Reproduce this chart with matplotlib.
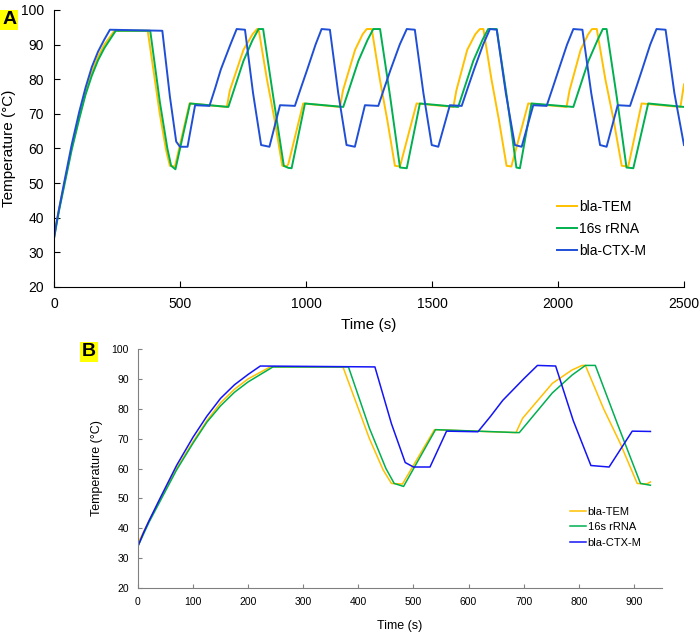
import numpy as np
import matplotlib
matplotlib.use("Agg")
import matplotlib.pyplot as plt

plt.rcParams['font.family'] = ['Liberation Sans', 'DejaVu Sans']

# bla-TEM (orange)
t_tem = [0, 20, 40, 70, 100, 125, 150, 175, 200, 240, 372, 420, 445, 460, 480, 538,
         686, 698, 752, 788, 806, 812, 845, 875, 906, 923, 930, 989,
         1135, 1147, 1195, 1225, 1241, 1261, 1293, 1322, 1353, 1373, 1439,
         1585, 1597, 1640, 1672, 1690, 1704, 1736, 1765, 1796, 1815, 1882,
         2034, 2046, 2090, 2120, 2135, 2154, 2188, 2220, 2253, 2279, 2332,
         2486, 2500]
T_tem = [35, 42.5, 49.5, 60, 69, 76, 82, 86.5, 90, 94, 94, 70, 59.5, 55, 54.8, 73,
         72, 76.8, 88.5, 93, 94.5, 94.5, 80, 68.5, 55, 54.8, 55.5, 73,
         72, 76.8, 88.5, 93, 94.5, 94.5, 80, 68.5, 55, 54.8, 73,
         72, 76.8, 88.5, 93, 94.5, 94.5, 80, 68.5, 55, 54.8, 73,
         72, 76.8, 88.5, 93, 94.5, 94.5, 80, 68.5, 55, 54.8, 73,
         72, 78.5]

# 16s rRNA (green)
t_16s = [0, 20, 40, 70, 100, 125, 150, 175, 200, 245, 382, 420, 450, 465, 482, 540,
         692, 752, 788, 812, 830, 870, 912, 930, 943, 996,
         1148, 1208, 1244, 1267, 1294, 1334, 1373, 1400, 1452,
         1604, 1664, 1700, 1723, 1757, 1797, 1835, 1849, 1895,
         2061, 2121, 2157, 2178, 2193, 2233, 2272, 2299, 2358, 2500]
T_16s = [34, 42, 49, 59.5, 68.5, 75.5, 81, 85.5, 89, 94, 94, 73.5, 60, 55, 54, 73,
         72, 85.3, 91.3, 94.5, 94.5, 75, 55, 54.4, 54.3, 73,
         72, 85.3, 91.3, 94.5, 94.5, 75, 54.5, 54.3, 73,
         72, 85.3, 91.3, 94.5, 94.5, 75, 54.5, 54.3, 73,
         72, 85.3, 91.3, 94.5, 94.5, 75, 54.5, 54.3, 73, 72]

# bla-CTX-M (blue)
t_ctx = [0, 10, 20, 40, 70, 100, 125, 150, 175, 200, 222, 430, 460, 485, 500, 530, 560,
         617, 640, 662, 700, 725, 758, 790, 822, 855, 897, 930,
         956, 980, 1005, 1038, 1062, 1095, 1128, 1161, 1194, 1234,
         1287, 1311, 1336, 1372, 1400, 1432, 1466, 1499, 1525, 1571,
         1618, 1642, 1667, 1703, 1730, 1757, 1793, 1829, 1856, 1902,
         1955, 1979, 2003, 2036, 2061, 2097, 2132, 2167, 2193, 2237,
         2286, 2310, 2334, 2366, 2391, 2427, 2462, 2500]
T_ctx = [34, 38.5, 42.5, 50, 61, 70.5, 77.5, 83.5, 88, 91.5, 94.3, 94, 75, 62, 60.5, 60.5, 72.5,
         72.3, 77.5, 82.8, 90, 94.5, 94.3, 76, 61, 60.5, 72.5, 72.4,
         72.3, 77.5, 82.8, 90, 94.5, 94.3, 76, 61, 60.5, 72.5,
         72.3, 77.5, 82.8, 90, 94.5, 94.3, 76, 61, 60.5, 72.5,
         72.3, 77.5, 82.8, 90, 94.5, 94.3, 76, 61, 60.5, 72.5,
         72.3, 77.5, 82.8, 90, 94.5, 94.3, 76, 61, 60.5, 72.5,
         72.3, 77.5, 82.8, 90, 94.5, 94.3, 76, 61]

labels = ['bla-TEM', '16s rRNA', 'bla-CTX-M']
yticks = [20, 30, 40, 50, 60, 70, 80, 90, 100]

ORANGE = '#FFC000'
GREEN = '#00B050'
BLUE_A = '#1F4FD6'
BLUE_B = '#1414F5'

fig = plt.figure(figsize=(7, 6.32), dpi=100)

# ---- panel A
axA = fig.add_axes([0.0771, 0.5459, 0.9, 0.4383])
axA.plot(t_tem, T_tem, color=ORANGE, lw=1.4, label=labels[0])
axA.plot(t_16s, T_16s, color=GREEN, lw=1.4, label=labels[1])
axA.plot(t_ctx, T_ctx, color=BLUE_A, lw=1.4, label=labels[2])
axA.set_xlim(0, 2500)
axA.set_ylim(20, 100)
axA.set_xticks([0, 500, 1000, 1500, 2000, 2500])
axA.set_yticks(yticks)
axA.tick_params(direction='in', length=4, labelsize=10, width=0.8, pad=7)
axA.set_xlabel('Time (s)', fontsize=11, labelpad=5)
axA.set_ylabel('Temperature (°C)', fontsize=11, labelpad=4)
for s in ['top', 'right']:
    axA.spines[s].set_visible(False)
axA.legend(loc='center left', bbox_to_anchor=(0.7957, 0.6377),
           bbox_transform=fig.transFigure, frameon=False, fontsize=10,
           handlelength=1.45, handletextpad=0.15, labelspacing=0.55,
           borderpad=0, borderaxespad=0)

# ---- panel B
axB = fig.add_axes([0.1971, 0.0696, 0.7486, 0.3782])
mB = lambda t: np.asarray(t) <= 930
axB.plot(np.asarray(t_tem)[mB(t_tem)], np.asarray(T_tem)[mB(t_tem)],
         color=ORANGE, lw=1.1, label=labels[0])
axB.plot(np.asarray(t_16s)[mB(t_16s)], np.asarray(T_16s)[mB(t_16s)],
         color=GREEN, lw=1.1, label=labels[1])
axB.plot(np.asarray(t_ctx)[mB(t_ctx)], np.asarray(T_ctx)[mB(t_ctx)],
         color=BLUE_B, lw=1.1, label=labels[2])
axB.set_xlim(0, 951)
axB.set_ylim(20, 100)
axB.set_xticks(range(0, 1000, 100))
axB.set_yticks(yticks)
axB.tick_params(direction='in', length=3, labelsize=7.5, width=0.8,
                color='#808080', pad=6.5)
axB.set_xlabel('Time (s)', fontsize=9, labelpad=9)
axB.set_ylabel('Temperature (°C)', fontsize=9, labelpad=6)
for s in ['top', 'right']:
    axB.spines[s].set_visible(False)
for s in ['left', 'bottom']:
    axB.spines[s].set_color('#808080')
axB.legend(loc='center left', bbox_to_anchor=(0.814, 0.166),
           bbox_transform=fig.transFigure, frameon=False, fontsize=8,
           handlelength=1.5, handletextpad=0.1, labelspacing=0.5,
           borderpad=0, borderaxespad=0)

# panel letters
fig.text(0.003, 1 - 20 / 632, 'A', fontsize=14, fontweight='bold',
         ha='left', va='center',
         bbox=dict(facecolor='#FFFF00', edgecolor='none', pad=1.2))
fig.text(82 / 700, 1 - 352 / 632, 'B', fontsize=14, fontweight='bold',
         ha='left', va='center',
         bbox=dict(facecolor='#FFFF00', edgecolor='none', pad=1.2))

fig.savefig('out.png', dpi=100)
